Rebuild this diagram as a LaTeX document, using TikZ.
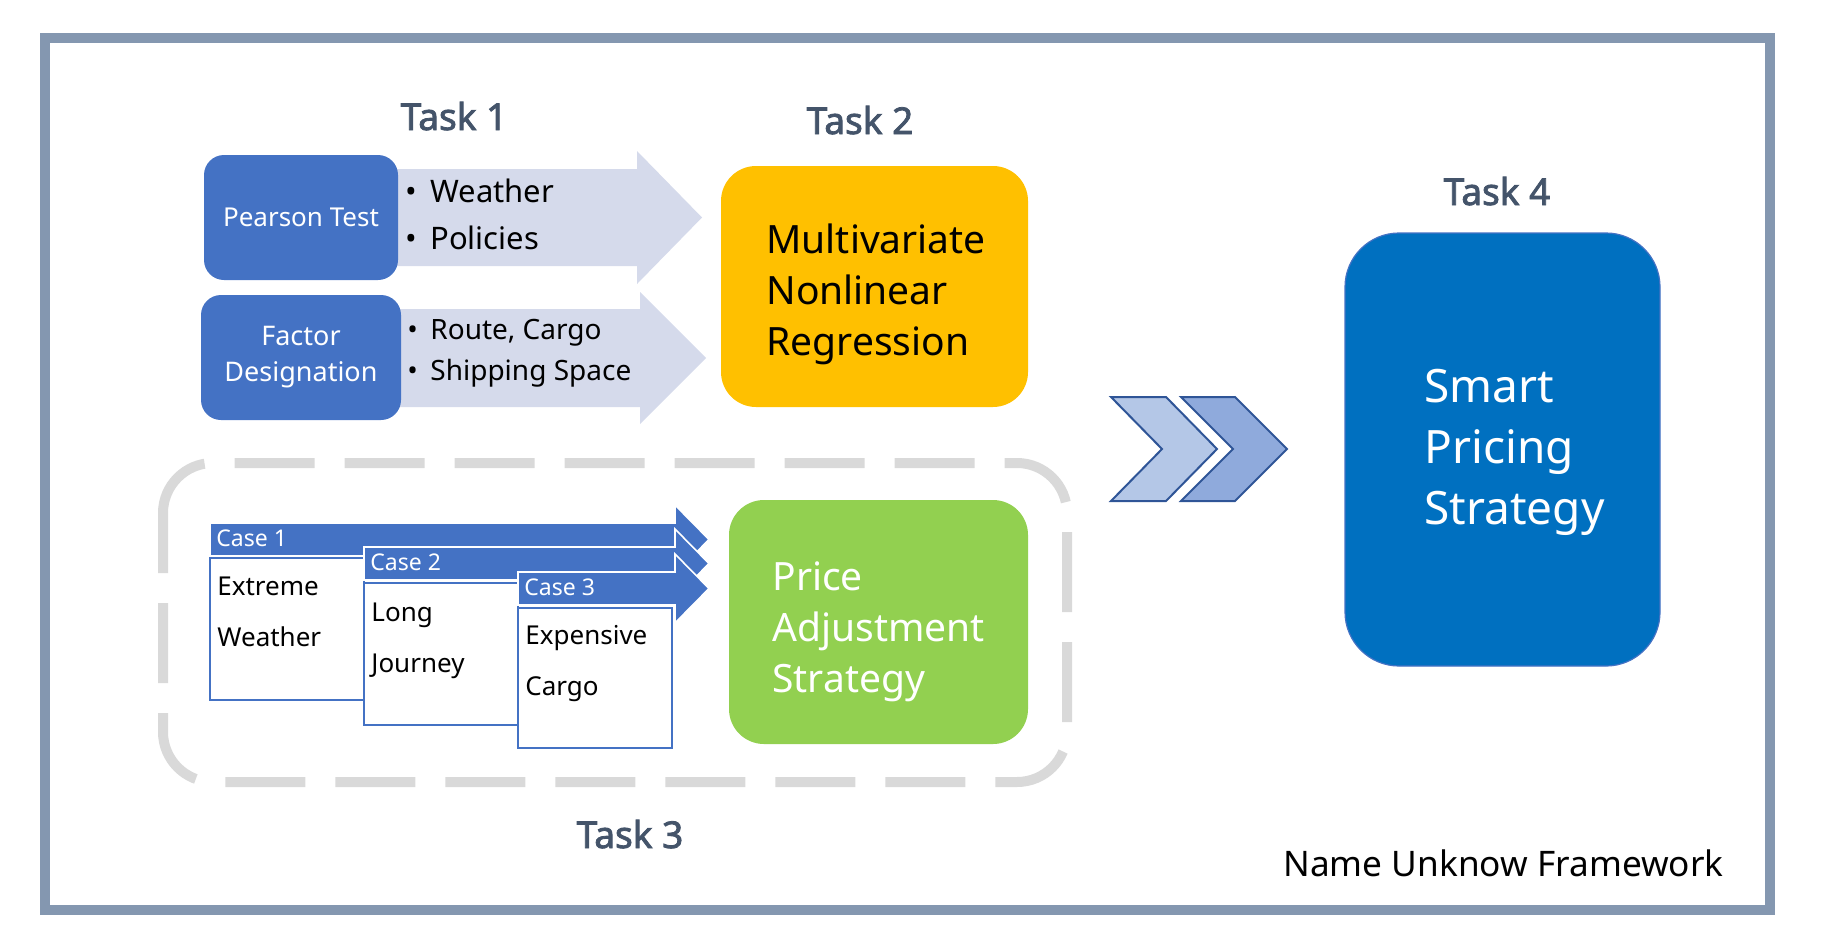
\documentclass[tikz,border=0pt]{standalone}
\usepackage{fontspec}
\setmainfont{Noto Sans}
\newfontfamily\taskfont[FakeBold=2.2]{Noto Sans}
\usepackage{tikz}
\usetikzlibrary{positioning}
\definecolor{framegray}{HTML}{8497B0}
\definecolor{boxblue}{HTML}{4472C4}
\definecolor{arrowlav}{HTML}{D5DAEB}
\definecolor{taskgray}{HTML}{44546A}
\definecolor{gold}{HTML}{FFC000}
\definecolor{leaf}{HTML}{92D050}
\definecolor{deepblue}{HTML}{0070C0}
\definecolor{chevlight}{HTML}{B4C7E7}
\definecolor{chevmid}{HTML}{8FAADC}
\definecolor{chevline}{HTML}{2F5597}
\definecolor{dashgray}{HTML}{D9D9D9}

\begin{document}
\begin{tikzpicture}[x=0.5pt, y=-0.5pt,
  task/.style={font=\taskfont\fontsize{18.5}{22}\selectfont, text=taskgray, inner sep=0pt, anchor=base},
  testbox/.style={fill=boxblue, rounded corners=10pt, text=white, align=center, minimum height=62.5pt},
  item/.style={anchor=base west, inner sep=0pt},
  bigbox/.style={rounded corners=17.5pt},
  bigtext/.style={anchor=west, inner sep=0pt, align=left, font=\fontsize{19.5}{25.5}\selectfont},
  casearrow/.style={fill=boxblue, draw=white, line width=0.8pt},
  caselabel/.style={anchor=west, inner sep=0pt, text=white, font=\fontsize{11.5}{14}\selectfont},
  casebox/.style={fill=white, draw=boxblue, line width=1pt, minimum width=77pt},
  casetext/.style={anchor=west, inner sep=0pt, align=left, font=\fontsize{13}{25.5}\selectfont},
  chevron/.style={draw=chevline, line width=1pt}]

\useasboundingbox (0,0) rectangle (1823,948);
\draw[framegray, line width=5pt] (45,38) rectangle (1770,910);

\fill[arrowlav] (380,169) -- (637,169) -- (637,151) -- (702,217.5) -- (637,284) -- (637,266) -- (380,266) -- cycle;
\fill[arrowlav] (385,309) -- (640,309) -- (640,292) -- (706,358) -- (640,424) -- (640,407) -- (385,407) -- cycle;

\node[testbox, minimum width=97pt, font=\fontsize{13}{18}\selectfont] (pearson) at (301,217.5) {Pearson Test};
\node[testbox, minimum width=100pt, font=\fontsize{13.5}{18}\selectfont] (factor) at (301,357.5) {Factor\\Designation};

\node[item, font=\fontsize{15.5}{19}\selectfont] (weather) at (405,202) {\makebox[12.5pt][l]{\textbullet}Weather};
\node[item, font=\fontsize{15.5}{19}\selectfont] (policies) at (405,249) {\makebox[12.5pt][l]{\textbullet}Policies};
\node[item, font=\fontsize{14}{17}\selectfont] (route) at (407,339) {\makebox[11.5pt][l]{\textbullet}Route, Cargo};
\node[item, font=\fontsize{14}{17}\selectfont] (space) at (407,380) {\makebox[11.5pt][l]{\textbullet}Shipping Space};

\node[task] (task1) at (454,130) {Task 1};

\node[bigbox, fill=gold, minimum width=153.5pt, minimum height=120.5pt] (regression) at (874.5,286.5) {};
\node[bigtext] (regressiontext) at (766,294) {Multivariate\\Nonlinear\\Regression};
\node[task] (task2) at (860,134) {Task 2};

\draw[dashgray, line width=5pt, rounded corners=25pt, dash pattern=on 40pt off 15pt, dash phase=10pt] (163,463) rectangle (1067,782);

\filldraw[casearrow] (210,523) -- (675,523) -- (675,505) -- (709,539.5) -- (675,574) -- (675,556) -- (210,556) -- cycle;
\node[caselabel] (case1) at (216,538) {Case 1};
\node[casebox, minimum height=71pt] (box1) at (287,629) {};
\node[casetext] (text1) at (217,612) {Extreme\\Weather};

\filldraw[casearrow] (364,547) -- (675,547) -- (675,529) -- (709,563.5) -- (675,598) -- (675,580) -- (364,580) -- cycle;
\node[caselabel] (case2) at (370,562) {Case 2};
\node[casebox, minimum height=71pt] (box2) at (441,654) {};
\node[casetext] (text2) at (371,641) {Long\\Journey};

\filldraw[casearrow] (518,572) -- (675,572) -- (675,554) -- (709,588.5) -- (675,623) -- (675,605) -- (518,605) -- cycle;
\node[caselabel] (case3) at (524,587) {Case 3};
\node[casebox, minimum height=70pt] (box3) at (595,678) {};
\node[casetext] (text3) at (525,664) {Expensive\\Cargo};

\node[bigbox, fill=leaf, minimum width=149.5pt, minimum height=122pt] (adjust) at (878.5,622) {};
\node[bigtext, text=white] (adjusttext) at (772,632) {Price\\Adjustment\\Strategy};
\node[task] (task3) at (630,848) {Task 3};

\filldraw[chevron, fill=chevlight] (1111,397) -- (1166,397) -- (1217,449) -- (1166,501) -- (1111,501) -- (1162,449) -- cycle;
\filldraw[chevron, fill=chevmid] (1181,397) -- (1235,397) -- (1287,449) -- (1235,501) -- (1181,501) -- (1233,449) -- cycle;

\node[fill=deepblue, draw=boxblue, line width=0.6pt, rounded corners=27pt, minimum width=157.5pt, minimum height=216.5pt] (smart) at (1502.5,449.5) {};
\node[anchor=west, inner sep=0pt, align=left, text=white, font=\fontsize{23}{30.5}\selectfont] (smarttext) at (1424,452) {Smart\\Pricing\\Strategy};
\node[task] (task4) at (1497,205) {Task 4};

\node[anchor=base, inner sep=0pt, font=\fontsize{17.6}{21}\selectfont] (name) at (1503.5,876) {Name Unknow Framework};
\end{tikzpicture}
\end{document}
